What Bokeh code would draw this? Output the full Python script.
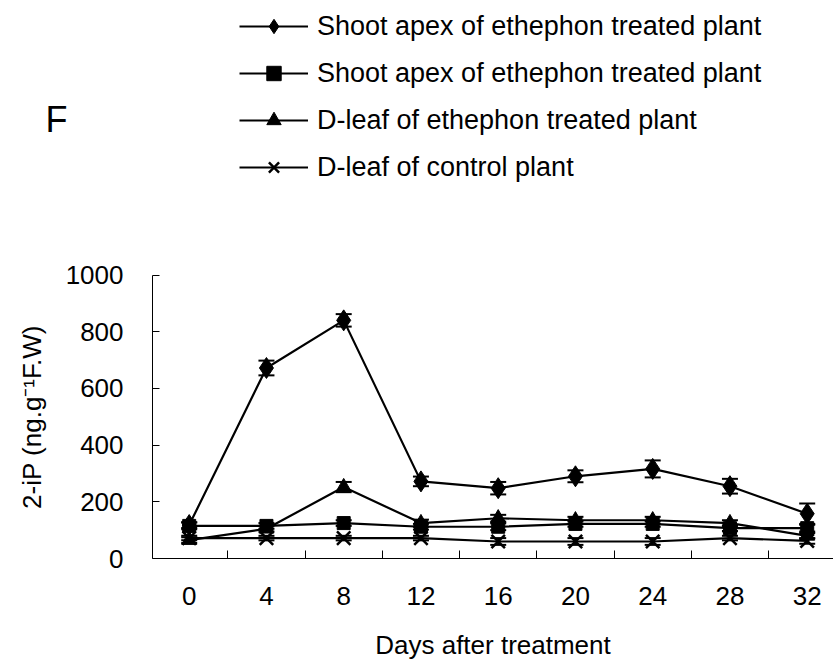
from bokeh.plotting import figure
from bokeh.models import (FixedTicker, Legend, LegendItem, Whisker, TeeHead,
                          ColumnDataSource, Label, Range1d)
from bokeh.embed import file_html
from bokeh.resources import INLINE

days = [0, 4, 8, 12, 16, 20, 24, 28, 32]
tick_labels = ["0", "4", "8", "12", "16", "20", "24", "28", "32"]
y_ticks = [0, 200, 400, 600, 800, 1000]

names = ["Shoot apex of ethephon treated plant",
         "Shoot apex of ethephon treated plant",
         "D-leaf of ethephon treated plant",
         "D-leaf of control plant"]

apex_treated = [118, 672, 840, 272, 248, 290, 316, 255, 158]
apex_treated_err = [10, 26, 22, 17, 22, 21, 30, 26, 36]

apex_control = [115, 115, 125, 112, 112, 122, 122, 107, 107]
apex_control_err = [12, 10, 10, 10, 12, 10, 10, 10, 12]

dleaf_treated = [65, 105, 252, 125, 142, 135, 135, 125, 80]
dleaf_treated_err = [10, 10, 18, 12, 12, 12, 12, 10, 10]

dleaf_control = [72, 72, 72, 72, 60, 60, 60, 72, 62]
dleaf_control_err = [8, 8, 8, 8, 12, 12, 12, 8, 10]

markers = ["diamond", "square", "triangle", "x"]
marker_sizes = [21, 13, 15, 19]
series = [apex_treated, apex_control, dleaf_treated, dleaf_control]
errors = [apex_treated_err, apex_control_err, dleaf_treated_err, dleaf_control_err]

FONT = "Liberation Sans"

# layout geometry (pixels): frame covers the whole canvas, axes are pinned
W, H = 833, 661
X0_PX, X_PX_PER_UNIT = 188.7, 19.3125      # where day 0 sits, px per day
Y0_PX, Y_PX_PER_UNIT = 558.0, 0.2835       # where 0 sits, px per unit
x_lo = -X0_PX / X_PX_PER_UNIT
x_hi = (W - X0_PX) / X_PX_PER_UNIT
y_lo = -(H - Y0_PX) / Y_PX_PER_UNIT
y_hi = Y0_PX / Y_PX_PER_UNIT
x_axis_start = -1.9

p = figure(width=W, height=H, output_backend="svg", toolbar_location=None,
           x_range=Range1d(x_lo, x_hi), y_range=Range1d(y_lo, y_hi),
           min_border=0)
p.outline_line_color = None
p.xgrid.grid_line_color = None
p.ygrid.grid_line_color = None

items = []
for vals, errs, mk, ms, nm in zip(series, errors, markers, marker_sizes, names):
    src = ColumnDataSource(dict(x=days, y=vals,
                                lo=[v - e for v, e in zip(vals, errs)],
                                hi=[v + e for v, e in zip(vals, errs)]))
    w = Whisker(source=src, base="x", lower="lo", upper="hi", dimension="height",
                line_color="black", line_width=2,
                upper_head=TeeHead(size=16, line_width=2, line_color="black"),
                lower_head=TeeHead(size=16, line_width=2, line_color="black"))
    p.add_layout(w)
    r1 = p.line("x", "y", source=src, line_color="black", line_width=2.2)
    if mk == "x":
        r2 = p.scatter("x", "y", source=src, marker=mk, size=ms,
                       line_color="black", line_width=2.5)
    else:
        r2 = p.scatter("x", "y", source=src, marker=mk, size=ms,
                       fill_color="black", line_color="black")
    items.append(LegendItem(label=nm, renderers=[r1, r2]))

legend = Legend(items=items, location=(239, 476), orientation="vertical",
                glyph_width=69, glyph_height=36, label_height=36,
                spacing=11, padding=0, margin=0, label_standoff=9,
                border_line_color=None, background_fill_alpha=0,
                label_text_font=FONT, label_text_font_size="27px",
                label_text_color="black")
p.add_layout(legend, "center")

p.add_layout(Label(x=45, y=H - 98, x_units="screen", y_units="screen",
                   text="F", text_font=FONT, text_font_size="36px",
                   text_color="black", text_baseline="top"))

xa = p.xaxis[0]
xa.fixed_location = 0
xa.bounds = (x_axis_start, x_hi + 1)
xa.ticker = FixedTicker(ticks=days, minor_ticks=[2, 6, 10, 14, 18, 22, 26, 30])
xa.major_label_overrides = {d: t for d, t in zip(days, tick_labels)}
xa.major_tick_line_color = None
xa.minor_tick_in = 8
xa.minor_tick_out = 0
xa.minor_tick_line_color = "black"
xa.axis_line_color = "black"
xa.major_label_standoff = 22
xa.axis_label = "Days after treatment"
xa.axis_label_standoff = 22

ya = p.yaxis[0]
ya.fixed_location = x_axis_start
ya.bounds = (0, 1000)
ya.ticker = FixedTicker(ticks=y_ticks)
ya.major_tick_in = 7
ya.major_tick_out = 0
ya.minor_tick_line_color = None
ya.major_tick_line_color = "black"
ya.axis_line_color = "black"
ya.major_label_standoff = 29
ya.axis_label = "2-iP (ng.g\u207b\u00b9F.W)"
ya.axis_label_standoff = 16

for ax in (xa, ya):
    ax.major_label_text_font = FONT
    ax.major_label_text_font_size = "26px"
    ax.major_label_text_color = "black"
    ax.axis_label_text_font = FONT
    ax.axis_label_text_font_size = "26px"
    ax.axis_label_text_font_style = "normal"
    ax.axis_label_text_color = "black"

open("out.html", "w").write(file_html(p, INLINE))
